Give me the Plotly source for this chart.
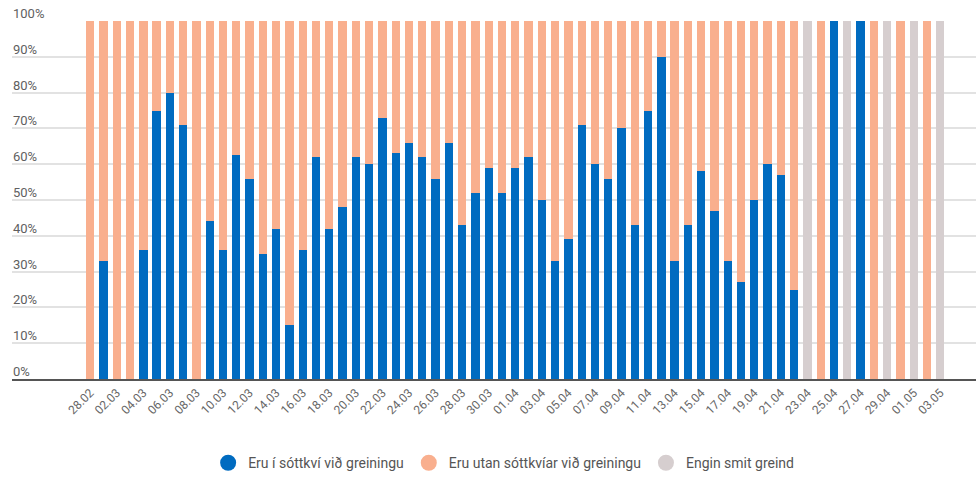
import plotly.graph_objects as go

dates = ["28.02"] + [f"{d:02d}.03" for d in range(1, 32)] + [f"{d:02d}.04" for d in range(1, 31)] + [f"{d:02d}.05" for d in range(1, 4)]

in_quarantine = [0, 33, 0, 0, 36, 75, 80, 71, 0, 44, 36, 62.5, 56, 35, 42, 15, 36, 62, 42, 48,
                 62, 60, 73, 63, 66, 62, 56, 66, 43, 52, 59, 52, 59, 62, 50, 33, 39, 71, 60, 56,
                 70, 43, 75, 90, 33, 43, 58, 47, 33, 27, 50, 60, 57, 25, 0, 0, 100, 0, 100, 0,
                 0, 0, 0, 0, 0]
outside_quarantine = [100, 67, 100, 100, 64, 25, 20, 29, 100, 56, 64, 37.5, 44, 65, 58, 85, 64, 38, 58, 52,
                      38, 40, 27, 37, 34, 38, 44, 34, 57, 48, 41, 48, 41, 38, 50, 67, 61, 29, 40, 44,
                      30, 57, 25, 10, 67, 57, 42, 53, 67, 73, 50, 40, 43, 75, 0, 100, 0, 0, 0, 100,
                      0, 100, 0, 100, 0]
no_cases = [0, 0, 0, 0, 0, 0, 0, 0, 0, 0, 0, 0, 0, 0, 0, 0, 0, 0, 0, 0,
            0, 0, 0, 0, 0, 0, 0, 0, 0, 0, 0, 0, 0, 0, 0, 0, 0, 0, 0, 0,
            0, 0, 0, 0, 0, 0, 0, 0, 0, 0, 0, 0, 0, 0, 100, 0, 0, 100, 0, 0,
            100, 0, 100, 0, 100]

tick_labels = dates[::2]
y_ticks = [0, 10, 20, 30, 40, 50, 60, 70, 80, 90, 100]
y_tick_text = [f"{v}%" for v in y_ticks]

series_names = ["Eru í sóttkví við greiningu", "Eru utan sóttkvíar við greiningu", "Engin smit greind"]
colors = ["#006BC0", "#F9AF8E", "#D6CECF"]

fig = go.Figure()
for name, vals, col in zip(series_names, [in_quarantine, outside_quarantine, no_cases], colors):
    fig.add_trace(go.Bar(x=dates, y=vals, name=name, marker=dict(color=col, line=dict(width=0)),
                         showlegend=False, legendgroup=name))
for name, col in zip(series_names, colors):
    fig.add_trace(go.Scatter(x=[None], y=[None], mode="markers", name=name, legendgroup=name,
                             marker=dict(color=col, size=16, symbol="circle")))

for v, t in zip(y_ticks, y_tick_text):
    fig.add_annotation(xref="paper", yref="y", x=0, y=v, text=t, showarrow=False,
                       xanchor="left", yanchor="bottom", xshift=-1, yshift=-2,
                       font=dict(size=13, color="#5f5f5f"))

font_family = "Roboto, Lato, sans-serif"
fig.update_layout(
    width=976, height=477,
    margin=dict(l=12, r=0, t=21, b=98, autoexpand=False),
    barmode="stack", bargap=0.375,
    plot_bgcolor="white", paper_bgcolor="white",
    font=dict(family=font_family, size=12, color="#666666"),
    legend=dict(orientation="h", x=0.51, xanchor="center", y=-0.235, yanchor="middle",
                font=dict(size=14, color="#555555"), itemsizing="trace", itemwidth=30),
    xaxis=dict(type="category", range=[-5.89, 66.69], tickmode="array", tickvals=tick_labels,
               ticktext=tick_labels, tickangle=-45, showgrid=False, showline=True,
               linecolor="#555555", linewidth=2, ticks="", automargin=False,
               tickfont=dict(size=12, color="#666666")),
    yaxis=dict(range=[0, 100], tickvals=y_ticks, showticklabels=False, showgrid=True,
               gridcolor="#E2E2E2", gridwidth=1.5, zeroline=False, showline=False, ticks="",
               automargin=False),
)
# remove the default 8px page margin so the 976x477 figure fills the window exactly
fig.write_html("out.html", config={"displayModeBar": False},
               post_script="document.body.style.margin='0';document.body.style.overflow='hidden';")
